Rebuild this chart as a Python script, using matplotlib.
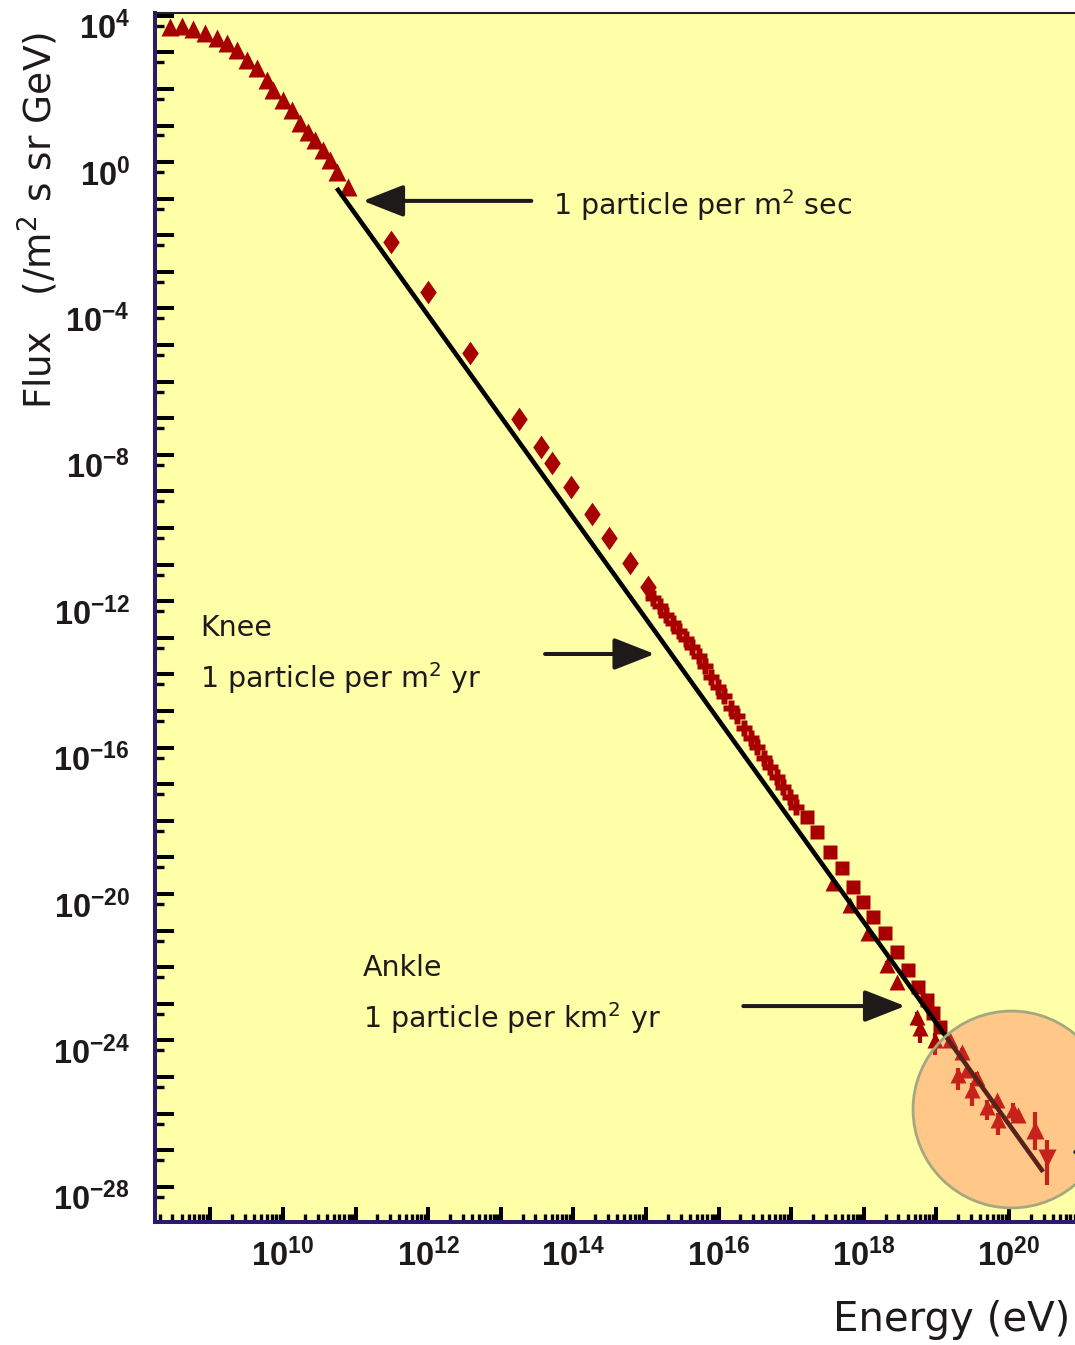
import numpy as np
import matplotlib.pyplot as plt
from matplotlib.ticker import FixedLocator, FuncFormatter, NullFormatter

plt.rcParams['mathtext.fontset'] = 'custom'
plt.rcParams['mathtext.rm'] = 'DejaVu Sans'
plt.rcParams['mathtext.bf'] = 'Liberation Sans:bold'

# all values are log10(E / eV) and log10(flux / (m2 s sr GeV))
low_logE = [8.44, 8.61, 8.76, 8.93, 9.09, 9.23, 9.37, 9.50, 9.64, 9.78,
            9.86, 10.00, 10.12, 10.23, 10.34, 10.44, 10.55, 10.65, 10.74, 10.90]
low_logF = [3.97, 3.99, 3.90, 3.80, 3.66, 3.52, 3.33, 3.06, 2.84, 2.51,
            2.24, 1.97, 1.69, 1.34, 1.09, 0.87, 0.60, 0.33, 0.00, -0.41]

dia_logE = [11.49, 12.00, 12.58, 13.25, 13.55, 13.71, 13.97, 14.26, 14.49, 14.78, 15.03]
dia_logF = [-1.91, -3.28, -4.95, -6.75, -7.51, -7.95, -8.61, -9.34, -10.00, -10.68, -11.34]

knee_logE = [15.10, 15.19, 15.28, 15.37, 15.45, 15.55, 15.63, 15.73, 15.81, 15.90, 15.99, 16.08,
             16.17, 16.25, 16.35, 16.45, 16.53, 16.63, 16.71, 16.80, 16.89, 16.98, 17.07]
knee_logF = [-11.64, -11.86, -12.10, -12.32, -12.54, -12.76, -12.98, -13.22, -13.50, -13.80, -14.07, -14.32,
             -14.64, -14.86, -15.19, -15.46, -15.71, -16.01, -16.26, -16.53, -16.80, -17.08, -17.35]

sq_logE = [17.22, 17.36, 17.53, 17.70, 17.85, 17.99, 18.13, 18.29, 18.46, 18.61, 18.75, 18.87, 18.95, 19.05]
sq_logF = [-17.62, -18.03, -18.58, -19.02, -19.54, -19.95, -20.36, -20.79, -21.31, -21.80, -22.27, -22.62, -22.98, -23.36]

ank_logE = [17.58, 17.81, 18.06, 18.32, 18.46, 18.73, 18.77, 18.98, 19.19, 19.35,
            19.30, 19.42, 19.56, 19.49, 19.70, 19.83, 19.85, 20.06, 20.12]
ank_logF = [-19.43, -20.03, -20.79, -21.67, -22.13, -23.09, -23.39, -23.72, -23.72, -24.04,
            -24.67, -24.54, -24.75, -25.08, -25.55, -25.36, -25.90, -25.63, -25.77]
ank_lo = [0, 0.15, 0, 0.2, 0, 0.25, 0.4, 0.4, 0, 0.2, 0.4, 0, 0.2, 0.45, 0.35, 0, 0.4, 0.3, 0.2]
ank_hi = [0, 0.1, 0, 0.1, 0, 0.15, 0.2, 0.2, 0, 0.1, 0.2, 0, 0.15, 0.2, 0.2, 0, 0.2, 0.2, 0.1]

# highest energy points, up and down triangles
top_logE = [20.36, 20.52]
top_logF = [-26.17, -26.94]
top_lo = [0.55, 0.74]
top_hi = [0.49, 0.49]

# E^-2.7 guide line
line_logE = [10.74, 20.47]
line_logF = [-0.44, -27.32]

circle_logE, circle_logF = 20.03, -25.59


def p(v):
    return 10.0 ** np.asarray(v, dtype=float)


red = '#A80000'
ink = '#1E1A1A'
navy = '#2B1A6E'

fig = plt.figure(figsize=(10.75, 13.45), dpi=100)
ax = fig.add_axes([155 / 1075, 123 / 1345, 920 / 1075, 1209 / 1345])
ax.set_facecolor('#FFFFA8')
ax.set_xscale('log')
ax.set_yscale('log')
ax.set_xlim(10 ** 8.237, 10 ** 20.909)
ax.set_ylim(10 ** -28.69, 10 ** 4.344)

ax.plot(p(low_logE), p(low_logF), '^', color=red, ms=13, mec='none', zorder=3)
diamond = [(0, 1), (0.7, 0), (0, -1), (-0.7, 0), (0, 1)]
ax.plot(p(dia_logE), p(dia_logF), marker=diamond, ls='none', color=red, ms=17, mec='none', zorder=3)
a = 0.44
cross = [(-a, 1), (a, 1), (a, a), (1, a), (1, -a), (a, -a), (a, -1), (-a, -1),
         (-a, -a), (-1, -a), (-1, a), (-a, a), (-a, 1)]
ax.plot(p(knee_logE), p(knee_logF), marker=cross, ls='none', color=red, ms=11, mec='none', zorder=3)
ax.plot(p(sq_logE), p(sq_logF), 's', color=red, ms=9.5, mec='none', zorder=3)

aF = p(ank_logF)
ax.errorbar(p(ank_logE), aF, yerr=[aF - aF * p(-np.array(ank_lo)), aF * p(ank_hi) - aF],
            fmt='^', color=red, ms=12, mec='none', elinewidth=3, capsize=0, zorder=3)
tF = p(top_logF)
terr = [tF - tF * p(-np.array(top_lo)), tF * p(top_hi) - tF]
ax.errorbar(p(top_logE[:1]), tF[:1], yerr=[terr[0][:1], terr[1][:1]], fmt='^', color=red,
            ms=13, mec='none', elinewidth=3, capsize=0, zorder=3)
ax.errorbar(p(top_logE[1:]), tF[1:], yerr=[terr[0][1:], terr[1][1:]], fmt='v', color=red,
            ms=13, mec='none', elinewidth=3, capsize=0, zorder=3)

ax.plot(p(line_logE), p(line_logF), color='black', lw=3.3, solid_capstyle='butt', zorder=4)

# highlighted region at the highest energies
ax.scatter([p(circle_logE)], [p(circle_logF)], s=20100, facecolor=(1.0, 0.39, 0.31, 0.35),
           edgecolor='#A3A87F', linewidth=2, zorder=6)

arrow = dict(arrowstyle='-|>,head_length=1.25,head_width=0.49', mutation_scale=20,
             lw=2.9, color=ink, shrinkA=0, shrinkB=0)
ax.annotate('', xy=(p(11.10), p(-0.79)), xytext=(p(13.42), p(-0.79)), arrowprops=arrow, zorder=7)
ax.annotate('', xy=(p(15.12), p(-13.17)), xytext=(p(13.61), p(-13.17)), arrowprops=arrow, zorder=7)
ax.annotate('', xy=(p(18.57), p(-22.79)), xytext=(p(16.34), p(-22.79)), arrowprops=arrow, zorder=7)
ax.annotate('', xy=(p(20.84), p(-26.78)), xytext=(p(22.5), p(-26.78)), arrowprops=arrow, zorder=7)

tk = dict(fontsize=20.5, color=ink, va='center', ha='left', zorder=8)
ax.text(p(13.72), p(-0.90), '1 particle per m$^2$ sec', **tk)
ax.text(p(8.86), p(-12.46), 'Knee', **tk)
ax.text(p(8.86), p(-13.83), '1 particle per m$^2$ yr', **tk)
ax.text(p(11.10), p(-21.75), 'Ankle', **tk)
ax.text(p(11.10), p(-23.11), '1 particle per km$^2$ yr', **tk)

# ticks
ax.xaxis.set_major_locator(FixedLocator(p(np.arange(8, 22))))
ax.xaxis.set_minor_locator(FixedLocator([m * 10.0 ** n for n in range(8, 21) for m in range(2, 10)]))
ax.yaxis.set_major_locator(FixedLocator(p(np.arange(-29, 5))))
ax.yaxis.set_minor_locator(FixedLocator(p(np.arange(-29, 5) + 0.27)))


def xfmt(v, pos):
    n = int(round(np.log10(v)))
    return r'$\mathbf{10^{%d}}$' % n if n % 2 == 0 and 10 <= n <= 20 else ''


def yfmt(v, pos):
    n = int(round(np.log10(v)))
    return r'$\mathbf{10^{%d}}$' % n if n % 4 == 0 else ''


ax.xaxis.set_major_formatter(FuncFormatter(xfmt))
ax.yaxis.set_major_formatter(FuncFormatter(yfmt))
ax.xaxis.set_minor_formatter(NullFormatter())
ax.yaxis.set_minor_formatter(NullFormatter())

ax.tick_params(axis='x', which='major', direction='in', length=10.8, width=2.9, pad=12,
               labelsize=23.5, labelcolor=ink, top=False)
ax.tick_params(axis='x', which='minor', direction='in', length=5.5, width=2.4, top=False)
ax.tick_params(axis='y', which='major', direction='in', length=6.5, width=2.4, pad=18,
               labelsize=23.5, labelcolor=ink, right=False)
ax.tick_params(axis='y', which='minor', direction='in', length=13.7, width=2.9, right=False)

ax.spines['right'].set_visible(False)
ax.spines['left'].set_color(navy)
ax.spines['left'].set_linewidth(2.9)
ax.spines['bottom'].set_color(navy)
ax.spines['bottom'].set_linewidth(2.9)
ax.spines['top'].set_color('#222222')
ax.spines['top'].set_linewidth(1.5)

ax.set_xlabel('Energy (eV)', fontsize=29, color=ink, ha='right', va='center')
ax.xaxis.set_label_coords(0.9946, -0.081)
ax.set_ylabel('Flux   (/m$^2$ s sr GeV)', fontsize=27, color=ink, ha='center', va='center')
ax.yaxis.set_label_coords(-0.127, 0.828)

fig.savefig('out.png', dpi=100)
